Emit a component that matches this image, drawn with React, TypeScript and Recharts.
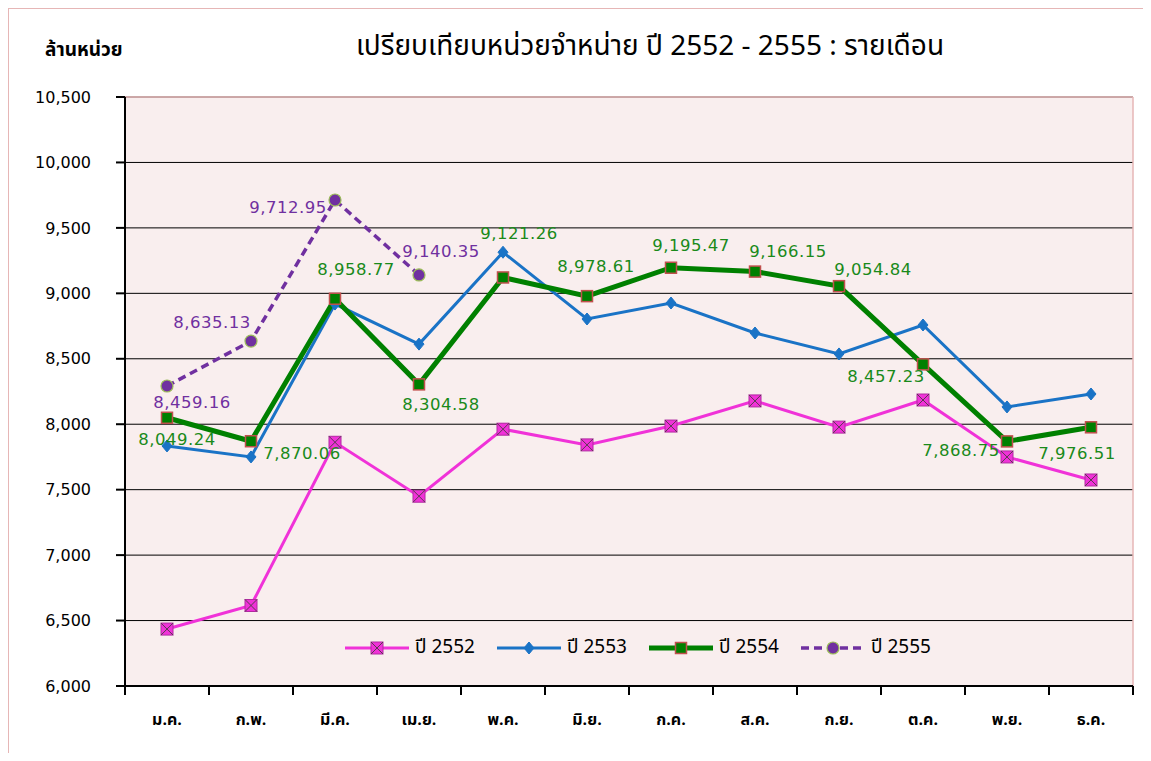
import React from "react";
import {
  LineChart,
  Line,
  XAxis,
  YAxis,
  CartesianGrid,
  ReferenceLine,
} from "recharts";

const months = ["ม.ค.", "ก.พ.", "มี.ค.", "เม.ย.", "พ.ค.", "มิ.ย.", "ก.ค.", "ส.ค.", "ก.ย.", "ต.ค.", "พ.ย.", "ธ.ค."];

const y2552 = [6435, 6615, 7862, 7450, 7962, 7842, 7986, 8178, 7978, 8185, 7750, 7574];
const y2553 = [7834, 7750, 8918, 8612, 9314, 8804, 8926, 8697, 8537, 8758, 8132, 8231];
const y2554 = [8049.24, 7870.06, 8958.77, 8304.58, 9121.26, 8978.61, 9195.47, 9166.15, 9054.84, 8457.23, 7868.75, 7976.51];
const y2555 = [8292, 8635.13, 9712.95, 9140.35, null, null, null, null, null, null, null, null];

// data labels as printed on the original chart
const labels2554 = ["8,049.24", "7,870.06", "8,958.77", "8,304.58", "9,121.26", "8,978.61", "9,195.47", "9,166.15", "9,054.84", "8,457.23", "7,868.75", "7,976.51"];
const labels2555 = ["8,459.16", "8,635.13", "9,712.95", "9,140.35"];

const yTicks = [6000, 6500, 7000, 7500, 8000, 8500, 9000, 9500, 10000, 10500];
const xTicks = [0, 1, 2, 3, 4, 5, 6, 7, 8, 9, 10, 11, 12];

// label nudges (dx, dy) so the texts sit where the original put them
const nudge2554 = [[10, 22], [51, 12], [21, -29], [22, 20], [16, -44], [9, -30], [20, -22], [33, -20], [34, -17], [-37, 12], [-46, 9], [-14, 26]];
const nudge2555 = [[25, 16], [-39, -19], [-47, 7], [22, -23]];

const data = months.map((m, i) => ({
  month: m,
  pos: i + 0.5,
  y2552: y2552[i],
  y2553: y2553[i],
  y2554: y2554[i],
  y2555: y2555[i],
}));

const C52 = "#f032d8";
const C53 = "#1a73c6";
const C54 = "#008000";
const C55 = "#7030a0";
const PINK = "#e6b6b6";
const labelFont = "'DejaVu Sans', Verdana, sans-serif";
const thaiFont = "Tahoma, 'Noto Sans Thai', 'Noto Sans', 'DejaVu Sans', sans-serif";

const HALF_BAND = 42;

const XMark = ({ cx, cy }: any) => (
  <g>
    <rect x={cx - 6} y={cy - 6} width={12} height={12} fill={C52} stroke="#b02aa0" strokeWidth={1} />
    <path d={`M${cx - 6},${cy - 6}L${cx + 6},${cy + 6}M${cx + 6},${cy - 6}L${cx - 6},${cy + 6}`} stroke="#5a3a50" strokeWidth={1} />
  </g>
);
const Diamond = ({ cx, cy }: any) => (
  <path d={`M${cx},${cy - 6}L${cx + 5},${cy}L${cx},${cy + 6}L${cx - 5},${cy}Z`} fill={C53} stroke={C53} />
);
const Square = ({ cx, cy }: any) => (
  <rect x={cx - 5.5} y={cy - 5.5} width={11} height={11} fill={C54} stroke="#c0504d" strokeWidth={1.5} />
);
const Circle = ({ cx, cy }: any) => (
  <circle cx={cx} cy={cy} r={6} fill={C55} stroke="#9bbb59" strokeWidth={1.2} />
);

const dotOf = (Comp: any) => (p: any) => {
  if (p.cy == null || p.value == null) return <g key={`e-${p.index}`} />;
  return <Comp key={`d-${p.index}`} cx={p.cx} cy={p.cy} />;
};

const labelOf = (texts: string[], nudges: number[][], color: string) => (p: any) => {
  const i = p.index;
  if (p.value == null || texts[i] == null) return <g key={`le-${i}`} />;
  const [dx, dy] = nudges[i];
  return (
    <text
      key={`l-${i}`}
      x={p.x + dx}
      y={p.y + dy}
      textAnchor="middle"
      dominantBaseline="central"
      fill={color}
      fontSize={16.5}
      letterSpacing={0.5}
      fontFamily={labelFont}
    >
      {texts[i]}
    </text>
  );
};

const MonthTick = ({ x, y, payload }: any) => {
  const v = payload.value;
  if (v >= months.length) return <g />;
  return (
    <text x={x + HALF_BAND} y={y + 25} textAnchor="middle" dominantBaseline="central" fontSize={16} fontWeight="bold" fontFamily={thaiFont} fill="#000">
      {months[v]}
    </text>
  );
};

const legendItems = [
  { name: "ปี 2552", color: C52, width: 3, dash: undefined, Mark: XMark },
  { name: "ปี 2553", color: C53, width: 3, dash: undefined, Mark: Diamond },
  { name: "ปี 2554", color: C54, width: 5, dash: undefined, Mark: Square },
  { name: "ปี 2555", color: C55, width: 3.5, dash: "8 5", Mark: Circle },
];

function LegendBox() {
  return (
    <div style={{ position: "absolute", left: 337, top: 625, display: "flex", gap: 15 }}>
      {legendItems.map(({ name, color, width, dash, Mark }) => (
        <div key={name} style={{ display: "flex", alignItems: "center" }}>
          <svg width={64} height={24}>
            <line x1={0} y1={12} x2={64} y2={12} stroke={color} strokeWidth={width} strokeDasharray={dash} />
            <Mark cx={32} cy={12} />
          </svg>
          <span style={{ fontFamily: thaiFont, fontSize: 19, marginLeft: 6, width: 67, whiteSpace: "nowrap", color: "#000" }}>{name}</span>
        </div>
      ))}
    </div>
  );
}

export default function App() {
  return (
    <div style={{ position: "relative", width: 1135, height: 745, background: "#fff" }}>
      <div style={{ position: "absolute", left: -1, top: -1, width: 1136, height: 746, borderTop: `2px solid ${PINK}`, borderLeft: `2px solid ${PINK}` }} />
      <div style={{ position: "absolute", left: 0, width: 1284, top: 17, textAlign: "center", fontFamily: thaiFont, fontSize: 28, color: "#000" }}>
        เปรียบเทียบหน่วยจำหน่าย ปี 2552 - 2555 : รายเดือน
      </div>
      <div style={{ position: "absolute", left: 37, top: 28, fontFamily: thaiFont, fontSize: 19, fontWeight: "bold", color: "#000" }}>
        ล้านหน่วย
      </div>
      <LineChart width={1135} height={745} data={data} margin={{ top: 89, right: 10, left: 0, bottom: 27 }}>
        <CartesianGrid vertical={false} stroke="#000" fill="#f9eeee" fillOpacity={1} />
        <XAxis
          type="number"
          dataKey="pos"
          domain={[0, 12]}
          ticks={xTicks}
          interval={0}
          height={40}
          tickSize={9}
          tickMargin={0}
          stroke="#000"
          axisLine={{ stroke: "#000", strokeWidth: 2 }}
          tickLine={{ stroke: "#000", strokeWidth: 2 }}
          tick={<MonthTick />}
        />
        <YAxis
          type="number"
          domain={[6000, 10500]}
          ticks={yTicks}
          interval={0}
          width={117}
          tickSize={9}
          tickMargin={25}
          axisLine={{ stroke: "#000", strokeWidth: 2 }}
          tickLine={{ stroke: "#000", strokeWidth: 2 }}
          tick={{ fill: "#000", fontSize: 16, fontFamily: labelFont }}
          tickFormatter={(v: number) => v.toLocaleString("en-US")}
        />
        <ReferenceLine y={10500} stroke={PINK} strokeWidth={1.5} />
        <ReferenceLine x={12} stroke={PINK} strokeWidth={1.5} />
        <Line dataKey="y2552" stroke={C52} strokeWidth={3} dot={dotOf(XMark)} isAnimationActive={false} />
        <Line dataKey="y2553" stroke={C53} strokeWidth={3} dot={dotOf(Diamond)} isAnimationActive={false} />
        <Line
          dataKey="y2554"
          stroke={C54}
          strokeWidth={5}
          dot={dotOf(Square)}
          label={labelOf(labels2554, nudge2554, "#1a8a1a")}
          isAnimationActive={false}
        />
        <Line
          dataKey="y2555"
          stroke={C55}
          strokeWidth={3.5}
          strokeDasharray="8 5"
          dot={dotOf(Circle)}
          label={labelOf(labels2555, nudge2555, C55)}
          isAnimationActive={false}
        />
      </LineChart>
      <LegendBox />
    </div>
  );
}
